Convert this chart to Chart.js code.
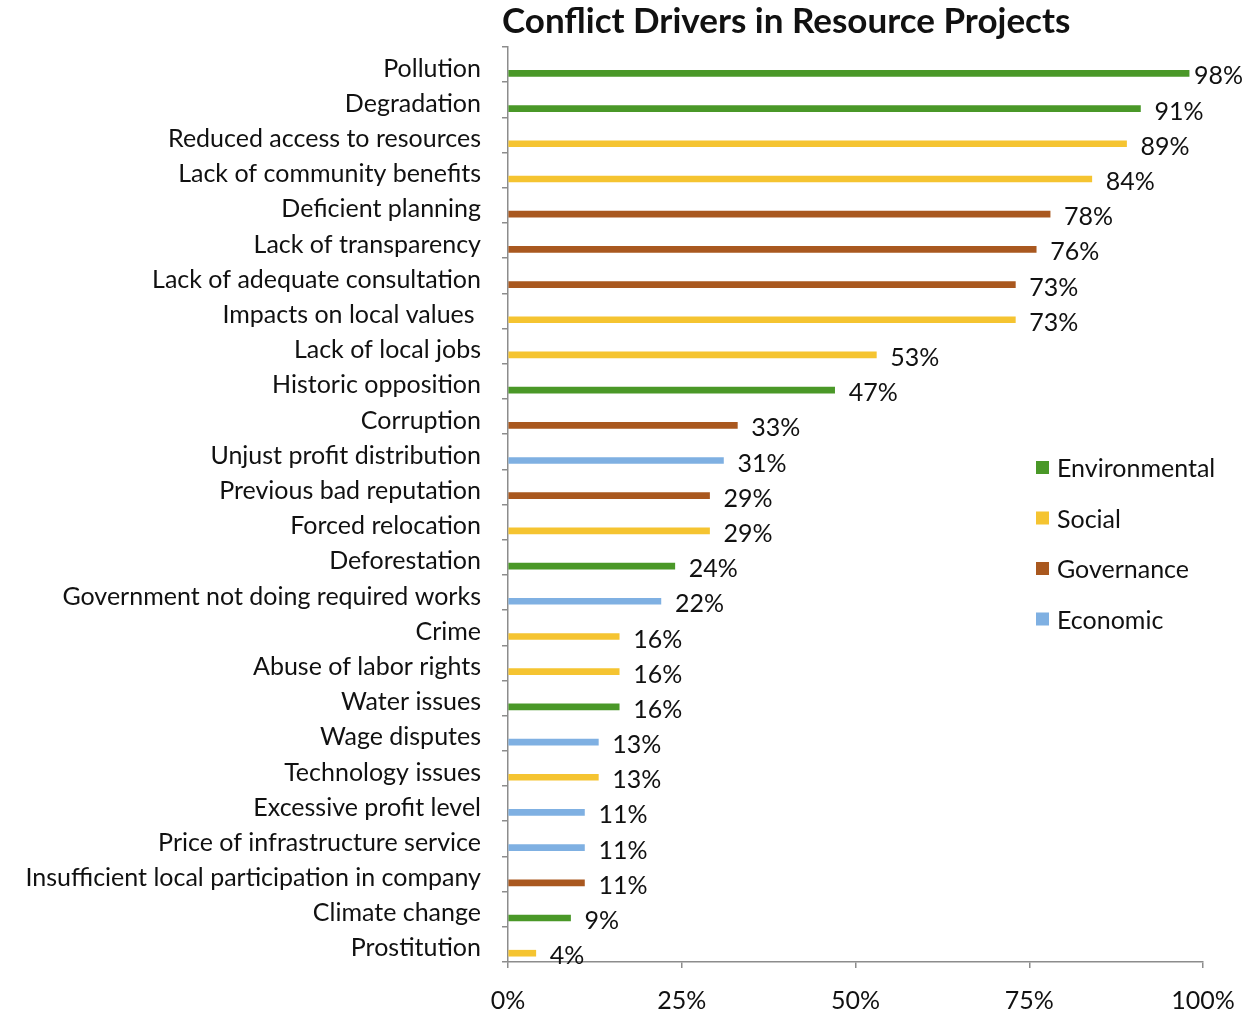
<!DOCTYPE html>
<html>
<head>
<meta charset="utf-8">
<script src="https://cdn.jsdelivr.net/npm/chart.js@4.4.1/dist/chart.umd.min.js"></script>
<style>
  html, body { margin: 0; padding: 0; background: #fff; }
  #wrap { width: 1247px; height: 1013px; }
</style>
</head>
<body>
<div id="wrap"><canvas id="chartDrivers" width="1247" height="1013"></canvas></div>
<script>
// datos
const categorias = [
  'Pollution', 'Degradation', 'Reduced access to resources', 'Lack of community benefits',
  'Deficient planning', 'Lack of transparency', 'Lack of adequate consultation', 'Impacts on local values ',
  'Lack of local jobs', 'Historic opposition', 'Corruption', 'Unjust profit distribution',
  'Previous bad reputation', 'Forced relocation', 'Deforestation', 'Government not doing required works',
  'Crime', 'Abuse of labor rights', 'Water issues', 'Wage disputes', 'Technology issues',
  'Excessive profit level', 'Price of infrastructure service', 'Insufficient local participation in company',
  'Climate change', 'Prostitution'
];
const valores = [98, 91, 89, 84, 78, 76, 73, 73, 53, 47, 33, 31, 29, 29, 24, 22, 16, 16, 16, 13, 13, 11, 11, 11, 9, 4];
const grupos = ['Environmental', 'Environmental', 'Social', 'Social', 'Governance', 'Governance', 'Governance', 'Social',
  'Social', 'Environmental', 'Governance', 'Economic', 'Governance', 'Social', 'Environmental', 'Economic',
  'Social', 'Social', 'Environmental', 'Economic', 'Social', 'Economic', 'Economic', 'Governance',
  'Environmental', 'Social'];
const tipos = ['Environmental', 'Social', 'Governance', 'Economic'];
const colores = ['#4a9828', '#f5c431', '#a9581f', '#7fb0e2'];
const ticksX = [0, 25, 50, 75, 100];

const FUENTE = 'Lato, "Open Sans", sans-serif';

// un dataset vacio arriba para que la barra quede en la parte baja de la banda
const datasets = [{
  label: '_hueco',
  data: categorias.map(() => null),
  stack: 'hueco',
  backgroundColor: 'rgba(0,0,0,0)'
}];
tipos.forEach((t, i) => {
  datasets.push({
    label: t,
    data: valores.map((v, k) => grupos[k] === t ? v : null),
    backgroundColor: colores[i],
    borderWidth: 0,
    stack: 'real'
  });
});

const etiquetasPlugin = {
  id: 'etiquetas',
  afterDatasetsDraw(chart) {
    const ctx = chart.ctx;
    ctx.save();
    ctx.font = '25px ' + FUENTE;
    ctx.fillStyle = '#111';
    ctx.textBaseline = 'middle';
    ctx.textAlign = 'left';
    chart.data.datasets.forEach((ds, di) => {
      if (di === 0) return;
      const meta = chart.getDatasetMeta(di);
      meta.data.forEach((bar, k) => {
        if (ds.data[k] === null) return;
        const txt = ds.data[k] + '%';
        const w = ctx.measureText(txt).width;
        const x = Math.min(bar.x + 14, chart.width - w - 4);
        ctx.fillText(txt, x, bar.y + 3);
      });
    });
    // titulo
    ctx.font = 'bold 35px ' + FUENTE;
    ctx.textAlign = 'left';
    ctx.fillText('Conflict Drivers in Resource Projects', 502, 22);
    // leyenda
    ctx.font = '25px ' + FUENTE;
    tipos.forEach((t, i) => {
      const y = 467 + i * 50.5;
      ctx.fillStyle = colores[i];
      ctx.fillRect(1036, y - 6, 13, 13);
      ctx.fillStyle = '#111';
      ctx.fillText(t, 1057, y + 2);
    });
    ctx.restore();
  }
};

const ctx = document.getElementById('chartDrivers').getContext('2d');
const chart = new Chart(ctx, {
  type: 'bar',
  data: { labels: categorias, datasets: datasets },
  options: {
    responsive: false,
    animation: false,
    indexAxis: 'y',
    layout: { padding: { top: 47, right: 44, left: 0, bottom: 0 } },
    datasets: { bar: { categoryPercentage: 1, barPercentage: 1, maxBarThickness: 6 } },
    plugins: { legend: { display: false }, tooltip: { enabled: false }, title: { display: false } },
    scales: {
      x: {
        min: 0, max: 100, stacked: true,
        afterBuildTicks: s => { s.ticks = ticksX.map(v => ({ value: v })); },
        afterFit: s => { s.height = 1013 - 962; s.paddingLeft = 0; s.paddingRight = 0; },
        border: { color: '#8c8c8c', width: 1.5 },
        grid: { drawOnChartArea: false, drawTicks: true, tickLength: 6, color: '#8c8c8c', lineWidth: 1.5 },
        ticks: { callback: v => v + '%', color: '#111', padding: 18, maxRotation: 0, font: { size: 25, family: FUENTE } }
      },
      y: {
        afterFit: s => { s.width = 508; s.paddingTop = 0; s.paddingBottom = 0; },
        border: { color: '#8c8c8c', width: 1.5 },
        grid: { drawOnChartArea: false, drawTicks: true, tickLength: 6, color: '#8c8c8c', lineWidth: 1.5 },
        ticks: { color: '#111', padding: 21, labelOffset: 4, autoSkip: false, font: { size: 25, family: FUENTE } }
      }
    }
  },
  plugins: [etiquetasPlugin]
});
</script>
</body>
</html>
